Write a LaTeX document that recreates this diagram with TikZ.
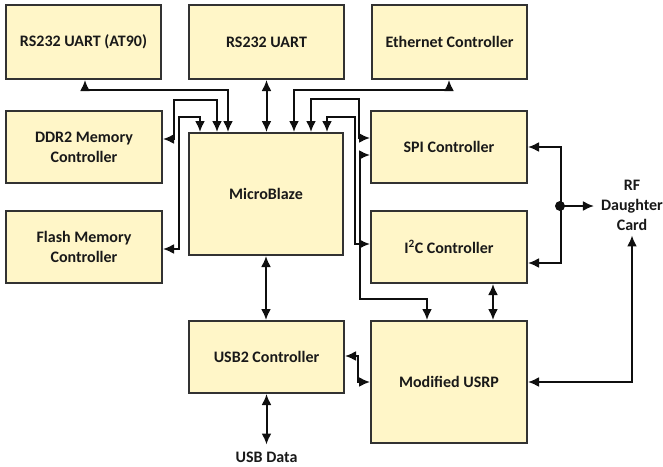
\documentclass[tikz,border=0pt]{standalone}
\usepackage{fontspec}
\setmainfont{Carlito}
\usetikzlibrary{arrows.meta}
\definecolor{boxfill}{RGB}{255,246,200}
\definecolor{boxline}{RGB}{50,50,50}
\definecolor{linec}{RGB}{15,15,15}
\definecolor{txt}{RGB}{25,25,25}
\begin{document}
\begin{tikzpicture}[x=1pt,y=-1pt,
  >={Latex[length=11pt,width=10pt]},
  blk/.style={draw=boxline, fill=boxfill, line width=2pt, inner sep=0pt,
    align=center, text=txt, font=\bfseries\fontsize{16}{20}\selectfont},
  lbl/.style={align=center, text=txt, inner sep=3pt, font=\bfseries\fontsize{16}{20}\selectfont},
  arr/.style={<->, line width=2pt, draw=linec},
  arrone/.style={->, line width=2pt, draw=linec}]
\useasboundingbox[fill=white] (0,0) rectangle (663,466);

\node[blk, minimum width=155, minimum height=74] (at90) at (83.5,42) {RS232 UART (AT90)};
\node[blk, minimum width=155, minimum height=74] (uart) at (266.5,42) {RS232 UART};
\node[blk, minimum width=155, minimum height=74] (eth) at (449.5,42) {Ethernet Controller};
\node[blk, minimum width=156, minimum height=72] (ddr) at (84,147) {DDR2 Memory\\Controller};
\node[blk, minimum width=156, minimum height=72] (flash) at (84,247) {Flash Memory\\Controller};
\node[blk, minimum width=154, minimum height=122] (mb) at (266,194) {MicroBlaze};
\node[blk, minimum width=156, minimum height=72] (spi) at (449,147) {SPI Controller};
\node[blk, minimum width=156, minimum height=72] (i2c) at (449,247) {I\textsuperscript{2}C Controller};
\node[blk, minimum width=155, minimum height=72] (usb) at (266.5,357) {USB2 Controller};
\node[blk, minimum width=156, minimum height=122] (usrp) at (449,382) {Modified USRP};
\node[lbl] (usbdata) at (266.5,457) {USB Data};
\node[lbl] (rf) at (632,205) {RF\\Daughter\\Card};

% top row
\draw[arr] ([xshift=1.5pt]at90.south) -- ++(0,10) -| ([xshift=-38pt]mb.north);
\draw[arr] (uart.south) -- (uart.south |- mb.north);
\draw[arr] ([xshift=-0.5pt]eth.south) -- ++(0,10) -| ([xshift=28pt]mb.north);
% left loops
\draw[arr] ([yshift=8pt]ddr.east) -- ++(11,0) -- ++(0,-39) -| ([xshift=-49pt]mb.north);
\draw[arr] ([yshift=-2pt]flash.east) -- ++(16,0) -- ++(0,-132) -| ([xshift=-66pt]mb.north);
% right loops
\draw[arr] ([yshift=9pt]spi.west) -- ++(-11,0) -- ++(0,-39) -| ([xshift=45pt]mb.north);
\draw[arr] ([yshift=3pt]i2c.west) -- ++(-15,0) -- ++(0,-127) -| ([xshift=61pt]mb.north);
\draw[arr] ([yshift=-8pt]spi.west) -- ++(-10,0) -- ++(0,144) -| ([xshift=-22pt]usrp.north);
% lower
\draw[arr] ([xshift=44pt]i2c.south) -- ([xshift=44pt]usrp.north);
\draw[arr] (mb.south) -- (mb.south |- usb.north);
\draw[arr] (usb.south) -- ([yshift=4pt]usbdata.north);
\draw[arr] ([yshift=1pt]usb.east) -- ++(13,0) |- (usrp.west);
% RF bus
\draw[arr] (spi.east) -- ++(33,0) |- ([yshift=-16pt]i2c.east);
\coordinate (j) at (560,206);
\fill[linec] (j) circle (5);
\draw[arrone] (j) -- ([xshift=-4pt]rf.west |- j);
\draw[arr] (usrp.east) -| ([yshift=-2pt]rf.south);
\end{tikzpicture}
\end{document}
